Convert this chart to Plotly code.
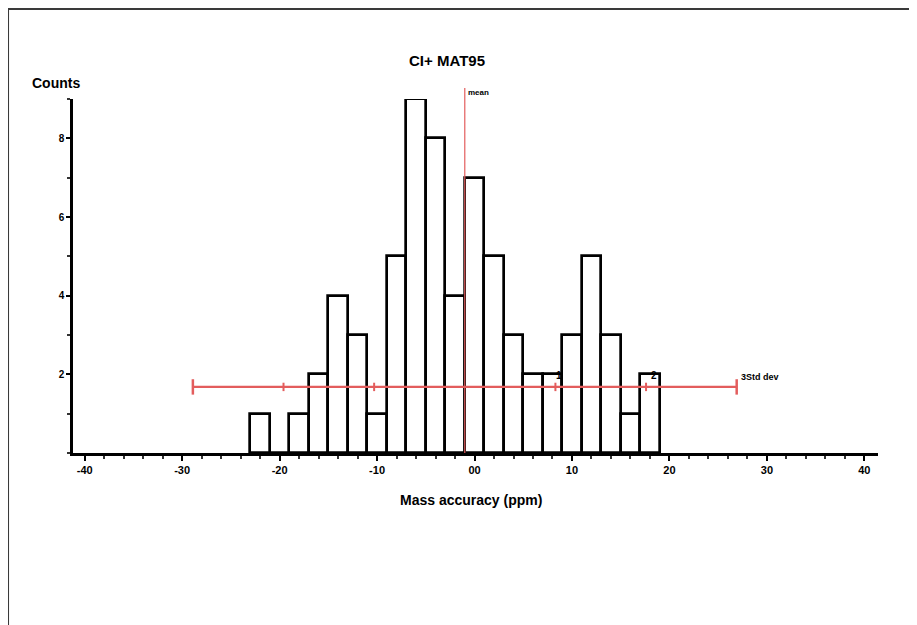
import plotly.graph_objects as go

# ---- data ----
bin_centers = [-22, -20, -18, -16, -14, -12, -10, -8, -6, -4, -2, 0, 2, 4, 6, 8, 10, 12, 14, 16, 18]
counts      = [1, 0, 1, 2, 4, 3, 1, 5, 9, 8, 4, 7, 5, 3, 2, 2, 3, 5, 3, 1, 2]
bin_width = 2
mean_ppm = -1.0
sd_ppm = 9.3
sd_levels = [-3, -2, -1, 1, 2, 3]
sd_line_count = 1.68

x_tickvals = [-40, -30, -20, -10, 0, 10, 20, 30, 40]
x_ticktext = ["-40", "-30", "-20", "-10", "00", "10", "20", "30", "40"]
y_tickvals = [2, 4, 6, 8]
y_ticktext = ["2", "4", "6", "8"]

title_text = "CI+ MAT95"
y_title = "Counts"
x_title = "Mass accuracy (ppm)"

FONT = "Liberation Sans, Arial, sans-serif"
RED = "#e35d5d"

fig = go.Figure()
fig.add_trace(go.Bar(
    x=bin_centers, y=counts, width=bin_width,
    marker=dict(color="white", line=dict(color="black", width=2.7)),
    showlegend=False, hoverinfo="x+y",
))

# SD horizontal line
sd_x = [mean_ppm + k * sd_ppm for k in sd_levels]
fig.add_trace(go.Scatter(
    x=[sd_x[0], sd_x[-1]], y=[sd_line_count, sd_line_count], mode="lines",
    line=dict(color=RED, width=2.2), showlegend=False, hoverinfo="skip",
))
fig.add_trace(go.Scatter(
    x=[sd_x[0], sd_x[-1]], y=[sd_line_count] * 2, mode="markers",
    marker=dict(symbol="line-ns", size=11, line=dict(color=RED, width=2.5)),
    showlegend=False, hoverinfo="skip",
))
fig.add_trace(go.Scatter(
    x=sd_x[1:-1], y=[sd_line_count] * 4, mode="markers",
    marker=dict(symbol="line-ns", size=6, line=dict(color=RED, width=2)),
    showlegend=False, hoverinfo="skip",
))

ann = []
ann.append(dict(text="<b>mean</b>", x=mean_ppm, y=1.017, xref="x", yref="paper", xanchor="left",
                yanchor="middle", xshift=1, showarrow=False, font=dict(size=8, family=FONT, color="black")))
ann.append(dict(text="<b>1</b>", x=mean_ppm + sd_ppm, y=1.98, xref="x", yref="y", xanchor="center",
                yanchor="middle", xshift=4, showarrow=False, font=dict(size=10, family=FONT, color="black")))
ann.append(dict(text="<b>2</b>", x=mean_ppm + 2 * sd_ppm, y=1.98, xref="x", yref="y", xanchor="center",
                yanchor="middle", xshift=8, showarrow=False, font=dict(size=10, family=FONT, color="black")))
ann.append(dict(text="<b>3Std dev</b>", x=mean_ppm + 3 * sd_ppm, y=1.93, xref="x", yref="y", xanchor="left",
                yanchor="middle", xshift=2, showarrow=False, font=dict(size=9, family=FONT, color="black")))
ann.append(dict(text="<b>%s</b>" % title_text, x=0.4646, y=1.110, xref="paper", yref="paper",
                xanchor="center", yanchor="middle",
                showarrow=False, font=dict(size=15, family=FONT, color="black")))
ann.append(dict(text="<b>%s</b>" % y_title, x=-0.021, y=1.045, xref="paper", yref="paper",
                xanchor="center", yanchor="middle",
                showarrow=False, font=dict(size=14, family=FONT, color="black")))
ann.append(dict(text="<b>%s</b>" % x_title, x=0.4944, y=-0.134, xref="paper", yref="paper",
                xanchor="center", yanchor="middle",
                showarrow=False, font=dict(size=14, family=FONT, color="black")))

fig.update_layout(
    width=917, height=625,
    margin=dict(l=65, r=47, t=91, b=180),
    paper_bgcolor="white", plot_bgcolor="white",
    bargap=0,
    annotations=ann,
    shapes=[
        dict(type="rect", xref="paper", yref="paper", x0=-0.0807, x1=1.1, y0=-0.6, y1=1.2545,
             line=dict(color="#3a3a3a", width=2), fillcolor="rgba(0,0,0,0)", layer="below"),
        dict(type="line", xref="x", yref="paper", x0=mean_ppm, x1=mean_ppm, y0=0, y1=1.031,
             line=dict(color=RED, width=1.2), layer="above"),
    ],
    xaxis=dict(range=[-41.2, 41.4], showgrid=False, zeroline=False, showline=True,
               linecolor="black", linewidth=2.5, ticks="outside", ticklen=5, tickwidth=2,
               tickcolor="black", tickvals=x_tickvals, ticktext=["<b>%s</b>" % t for t in x_ticktext],
               tickfont=dict(size=11, family=FONT, color="black"),
               minor=dict(dtick=2, tick0=0, ticks="outside", ticklen=3, tickwidth=1.5, tickcolor="#333")),
    yaxis=dict(range=[0, 9], showgrid=False, zeroline=False, showline=True,
               linecolor="black", linewidth=2.5, ticks="outside", ticklen=4, tickwidth=2,
               tickcolor="black", tickvals=y_tickvals, ticktext=["<b>%s</b>" % t for t in y_ticktext],
               tickfont=dict(size=10, family=FONT, color="black"),
               minor=dict(dtick=1, tick0=0, ticks="outside", ticklen=3, tickwidth=1.5, tickcolor="#333")),
)

fig.write_html("out.html")
